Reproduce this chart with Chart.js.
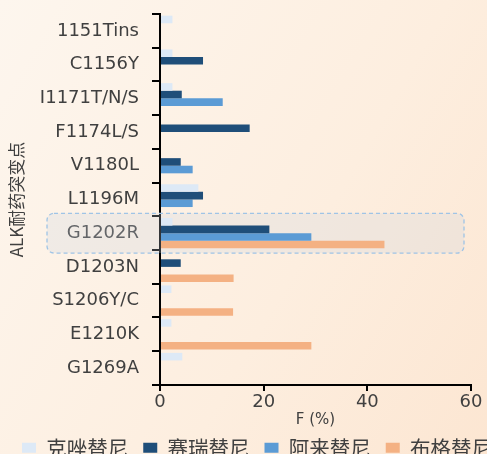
<!DOCTYPE html>
<html>
<head>
<meta charset="utf-8">
<script src="https://cdn.jsdelivr.net/npm/chart.js@4/dist/chart.umd.min.js"></script>
<style>
  html, body { margin: 0; padding: 0; overflow: hidden; }
  body { background: linear-gradient(120deg, #fdf6ee 0%, #fdeedf 60%, #fce6d2 100%); }
  #wrap { width: 487px; height: 454px; }
</style>
</head>
<body>
<div id="wrap"><canvas id="chart"></canvas></div>
<script>
const mutations = ["1151Tins", "C1156Y", "I1171T/N/S", "F1174L/S", "V1180L", "L1196M",
  "G1202R", "D1203N", "S1206Y/C", "E1210K", "G1269A"];
const crizotinib = [2.4, 2.4, 2.4, null, null, 7.4, 2.4, null, 2.2, 2.2, 4.3];
const ceritinib = [null, 8.3, 4.2, 17.3, 4.0, 8.3, 21.1, 4.0, null, null, null];
const alectinib = [null, null, 12.1, null, 6.3, 6.3, 29.2, null, null, null, null];
const brigatinib = [null, null, null, null, null, null, 43.3, 14.2, 14.1, 29.2, null];
const xTicks = [0, 20, 40, 60];
const highlight = "G1202R";

const tickFont = { family: "'DejaVu Sans', sans-serif", size: 18 };
const cjkFont = "'Noto Sans CJK SC', sans-serif";

// dashed box behind the highlighted mutation
const highlightBox = {
  id: "highlightBox",
  beforeDatasetsDraw(chart) {
    const y = chart.scales.y;
    const area = chart.chartArea;
    const idx = mutations.indexOf(highlight);
    const half = (y.getPixelForValue(1) - y.getPixelForValue(0)) / 2 + 3;
    const cy = y.getPixelForValue(idx);
    const left = area.left - 113, right = area.right - 7;
    const ctx = chart.ctx;
    ctx.save();
    ctx.beginPath();
    ctx.roundRect(left, cy - half, right - left, half * 2, 7);
    ctx.fillStyle = "rgba(205, 212, 222, 0.25)";
    ctx.fill();
    ctx.setLineDash([4, 3]);
    ctx.lineWidth = 1.3;
    ctx.strokeStyle = "#9fc4e6";
    ctx.stroke();
    ctx.restore();
  },
};

// keep the legend on one row even if it runs off the right edge
const legendOneRow = {
  id: "legendOneRow",
  afterInit(chart) {
    const legend = chart.legend;
    const originalFit = legend.fit;
    legend.fit = function fit() {
      const w = this.maxWidth;
      this.maxWidth = 1000;
      originalFit.call(this);
      this.maxWidth = w;
      this.width = Math.min(this.width, w);
    };
  },
  afterLayout(chart) {
    const legend = chart.legend;
    legend.left += 7;
    legend.right += 200;
    legend.top -= 7;
    legend.bottom -= 7;
  },
};

new Chart(document.getElementById("chart"), {
  type: "bar",
  data: {
    labels: mutations,
    datasets: [
      { label: "克唑替尼", data: crizotinib, backgroundColor: "#dde9f6" },
      { label: "赛瑞替尼", data: ceritinib, backgroundColor: "#1f4e79" },
      { label: "阿来替尼", data: alectinib, backgroundColor: "#5b9bd5" },
      { label: "布格替尼", data: brigatinib, backgroundColor: "#f4b183" },
    ],
  },
  options: {
    indexAxis: "y",
    responsive: true,
    maintainAspectRatio: false,
    animation: false,
    datasets: { bar: { categoryPercentage: 0.9, barPercentage: 1.0 } },
    layout: { padding: { top: 14, right: 16, left: 0, bottom: -21 } },
    scales: {
      x: {
        min: 0,
        max: 60,
        afterBuildTicks(scale) {
          scale.ticks = xTicks.map((v) => ({ value: v }));
        },
        grid: { drawOnChartArea: false, color: "#000", lineWidth: 2, tickLength: 6 },
        border: { color: "#000", width: 2 },
        ticks: { color: "#404040", font: tickFont, padding: 1 },
        title: {
          display: true,
          text: "F (%)",
          color: "#404040",
          font: { family: "'DejaVu Sans', sans-serif", size: 15 },
          padding: { top: -3, bottom: 0 },
        },
      },
      y: {
        afterFit(scale) {
          scale.width = 160;
          scale.paddingTop = 0;
          scale.paddingBottom = 0;
        },
        grid: { drawOnChartArea: false, color: "#000", lineWidth: 2, tickLength: 8 },
        border: { color: "#000", width: 2 },
        ticks: { color: "#404040", font: tickFont, padding: 13 },
        title: {
          display: true,
          text: "ALK耐药突变点",
          color: "#404040",
          font: { family: cjkFont, size: 17 },
          padding: { top: 6, bottom: 4 },
        },
      },
    },
    plugins: {
      tooltip: { enabled: false },
      legend: {
        position: "bottom",
        align: "start",
        labels: {
          color: "#404040",
          font: { family: cjkFont, size: 20.5 },
          boxWidth: 14,
          boxHeight: 10,
          padding: 15,
        },
      },
    },
  },
  plugins: [highlightBox, legendOneRow],
});
</script>
</body>
</html>
